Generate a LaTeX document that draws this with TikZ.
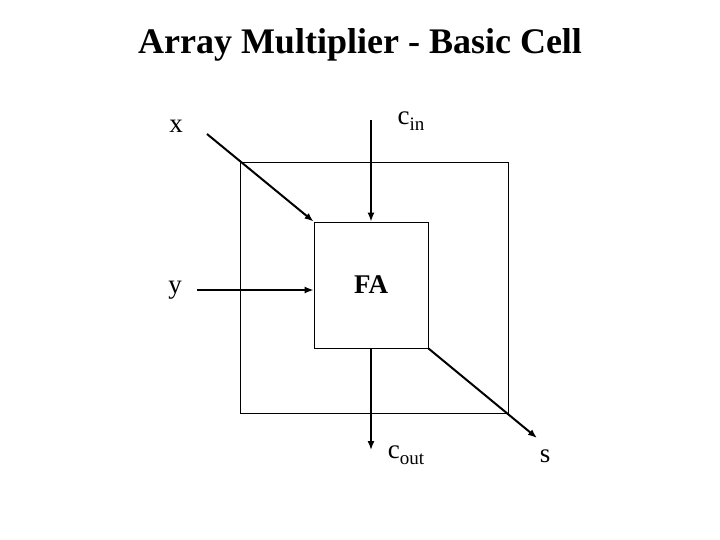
\documentclass[tikz,border=0pt]{standalone}
\usepackage{fontspec}
\setmainfont{Liberation Serif}
\usepackage{tikz}
\usetikzlibrary{arrows.meta, positioning}

\newcommand{\indice}[1]{\raisebox{-6pt}{\fontsize{19}{20}\selectfont #1}}

\begin{document}
\begin{tikzpicture}[
        x=1pt, y=-1pt,
        celula/.style={rectangle, draw=black, line width=0.9pt, minimum width=114pt, minimum height=126pt, inner sep=0pt},
        rotulo/.style={font=\fontsize{27}{30}\selectfont, inner sep=0pt},
        seta/.style={line width=1.4pt, -{Latex[length=9pt,width=7pt]}},
        diag/.style={seta, line width=2pt}
    ]
        \useasboundingbox (0,0) rectangle (720,540);

        % Título
        \node[font=\bfseries\fontsize{36}{40}\selectfont] (titulo) at (360,45) {Array Multiplier - Basic Cell};

        % Caixas
        \node[celula] (moldura) at (374.5,287.5) [minimum width=268pt, minimum height=251pt] {};
        \node[celula, font=\bfseries\fontsize{27}{28}\selectfont] (fa) at (371,285) {FA};

        % Rótulos
        \node[rotulo] (x) at (176,126) {x};
        \node[rotulo] (cin) at (411,121) {c\indice{in}};
        \node[rotulo] (y) at (175,290) {y};
        \node[rotulo] (cout) at (406,455) {c\indice{out}};
        \node[rotulo] (s) at (545,456) {s};

        % Pontos livres
        \coordinate (xini) at (207,134);
        \coordinate (cinini) at (fa.north |- 0,120);
        \coordinate (yini) at (197,290);
        \coordinate (coutfim) at (fa.south |- 0,450);
        \coordinate (sfim) at (537,438);

        % Conexões
        \draw[diag] (xini) -- (fa.north west);
        \draw[seta] (cinini) -- (fa.north);
        \draw[seta] (yini) -- (fa.west |- yini);
        \draw[seta] (fa.south) -- (coutfim);
        \draw[diag] (fa.south east) -- (sfim);
    \end{tikzpicture}
\end{document}
